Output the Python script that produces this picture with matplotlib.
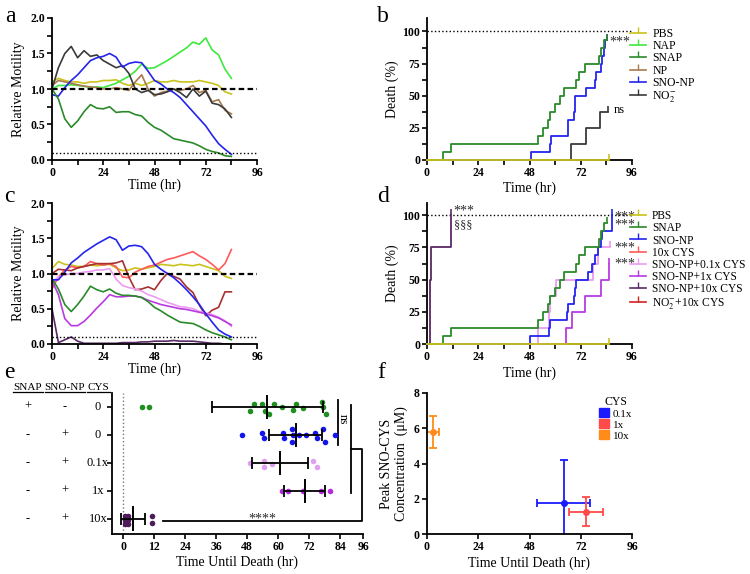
import numpy as np
import matplotlib
matplotlib.use('Agg')
import matplotlib.pyplot as plt
import matplotlib.transforms as mtrans
from matplotlib.ticker import MultipleLocator
from matplotlib.lines import Line2D
from matplotlib.patches import Patch

plt.rcParams['font.family'] = ['Liberation Serif', 'DejaVu Serif']
plt.rcParams['mathtext.fontset'] = 'stix'

W, H = 750, 574

# ---------------- data ----------------
# motility time grid (hr)
t_mot = [0, 3, 6, 9, 12, 15, 18, 21, 24, 27, 30, 33, 36, 39, 42, 45, 48, 51, 54, 57,
         60, 63, 66, 69, 72, 75, 78, 81, 84]

# panel a
a_pbs = [1.1, 1.15, 1.12, 1.1, 1.1, 1.08, 1.1, 1.1, 1.12, 1.12, 1.13, 1.08, 1.05, 1.08, 1.05,
         1.08, 1.12, 1.1, 1.1, 1.12, 1.1, 1.1, 1.1, 1.12, 1.1, 1.08, 1.05, 0.96, 0.93]
a_nap = [1.0, 1.05, 1.05, 1.06, 1.05, 1.04, 1.02, 1.03, 1.02, 1.05, 1.08, 1.13, 1.18, 1.25, 1.35,
         1.29, 1.3, 1.35, 1.4, 1.46, 1.52, 1.58, 1.66, 1.63, 1.72, 1.55, 1.48, 1.28, 1.15]
a_snap = [1.0, 0.86, 0.58, 0.46, 0.55, 0.68, 0.78, 0.73, 0.72, 0.75, 0.67, 0.68, 0.68, 0.64, 0.62,
          0.53, 0.46, 0.42, 0.36, 0.3, 0.28, 0.26, 0.24, 0.2, 0.15, 0.12, 0.1, 0.06, 0.05]
a_np = [1.05, 1.12, 1.1, 1.08, 1.06, 1.04, 1.03, 1.02, 1.0, 1.0, 1.02, 1.0, 0.98, 1.1, 1.2,
        1.0, 0.9, 0.95, 0.97, 1.0, 0.98, 1.0, 1.05, 0.95, 0.98, 0.82, 0.85, 0.7, 0.65]
a_snonp = [0.92, 0.9, 1.02, 1.12, 1.2, 1.3, 1.4, 1.44, 1.46, 1.5, 1.45, 1.31, 1.36, 1.38, 1.37,
           1.25, 1.12, 1.07, 1.0, 0.95, 0.88, 0.78, 0.68, 0.58, 0.48, 0.35, 0.23, 0.15, 0.08]
a_no2 = [1.0, 1.3, 1.5, 1.6, 1.44, 1.54, 1.46, 1.48, 1.4, 1.35, 1.3, 1.33, 1.22, 1.0, 0.95,
         0.98, 0.92, 0.93, 0.96, 1.0, 0.95, 0.88, 1.0, 0.9, 0.97, 0.8, 0.78, 0.72, 0.6]

# panel c
c_pbs = [1.07, 1.17, 1.13, 1.12, 1.1, 1.1, 1.12, 1.11, 1.12, 1.13, 1.08, 1.04, 1.05, 1.08, 1.06,
         1.08, 1.1, 1.13, 1.12, 1.11, 1.13, 1.12, 1.11, 1.13, 1.1, 1.07, 1.04, 0.96, 0.93]
c_snap = [0.93, 0.78, 0.56, 0.46, 0.56, 0.68, 0.82, 0.77, 0.74, 0.78, 0.72, 0.69, 0.69, 0.68, 0.66,
          0.6, 0.52, 0.47, 0.41, 0.36, 0.31, 0.3, 0.29, 0.25, 0.2, 0.16, 0.13, 0.1, 0.06]
c_snonp = [0.91, 0.91, 1.02, 1.15, 1.22, 1.3, 1.36, 1.42, 1.47, 1.52, 1.48, 1.33, 1.39, 1.4, 1.38,
           1.28, 1.13, 1.06, 1.0, 0.94, 0.86, 0.77, 0.67, 0.56, 0.43, 0.31, 0.2, 0.14, 0.1]
c_cys10 = [0.78, 0.95, 1.05, 1.1, 1.08, 1.1, 1.17, 1.14, 1.12, 1.14, 1.1, 0.95, 0.94, 1.02, 1.06,
           1.1, 1.12, 1.16, 1.2, 1.22, 1.25, 1.28, 1.31, 1.25, 1.2, 1.13, 1.05, 1.14, 1.34]
c_sno01 = [0.87, 0.95, 0.98, 1.0, 1.0, 1.02, 1.03, 1.05, 1.05, 1.07, 0.92, 0.83, 0.8, 0.78, 0.75,
           0.7, 0.67, 0.63, 0.59, 0.56, 0.53, 0.52, 0.5, 0.46, 0.44, 0.42, 0.38, 0.33, 0.25]
c_sno1 = [0.9, 0.7, 0.36, 0.26, 0.26, 0.32, 0.41, 0.51, 0.6, 0.7, 0.67, 0.67, 0.68, 0.68, 0.66,
          0.62, 0.59, 0.56, 0.54, 0.52, 0.5, 0.49, 0.47, 0.45, 0.43, 0.4, 0.37, 0.32, 0.27]
c_sno10 = [0.5, 0.02, 0.06, 0.1, 0.04, 0.01, 0.01, 0.01, 0.01, 0.01, 0.01, 0.02, 0.02, 0.02, 0.03,
           0.03, 0.04, 0.04, 0.04, 0.05, 0.04, 0.04, 0.04, 0.03, 0.02, 0.01, 0.01, 0.0, 0.0]
c_no2cys = [1.0, 1.06, 1.05, 1.04, 1.08, 1.1, 1.12, 1.14, 1.14, 1.14, 1.15, 1.18, 0.95, 0.77, 0.78,
            0.81, 0.77, 0.9, 1.0, 0.96, 0.92, 0.81, 0.73, 0.55, 0.4, 0.48, 0.52, 0.74, 0.74]

# survival: event times (hr), group size, end of follow-up
b_snap_t = [7.6, 11.2, 52.0, 54.1, 56.7, 57.5, 59.8, 62.2, 64.2, 69.7, 71.1, 73.9, 80.4, 81.7, 82.9]
b_snonp_t = [48.9, 57.5, 58.0, 65.8, 66.1, 68.9, 69.2, 69.5, 74.6, 78.9, 79.3, 81.7, 82.1, 82.9, 83.5]
b_no2_t = [67.2, 74.6, 81.2]
d_snonp_t = [48.1, 57.0, 57.5, 65.7, 66.2, 69.0, 69.3, 69.6, 75.4, 77.5, 78.5, 79.9, 81.4, 82.0,
             86.4, 86.4]
d_sno01_t = [52.0, 57.3, 57.7, 60.6, 77.7, 80.1]
d_sno1_t = [65.3, 68.1, 73.8, 81.7, 85.2]
d_sno10_t = [1.2, 1.2, 1.2, 1.2, 1.7, 1.7, 11.4, 11.4]

# panel e: time until death (hr) and vertical jitter
e_snap = [7.1, 10.1, 49.1, 50.7, 53.6, 54.9, 56.6, 58.4, 61.4, 65.9, 66.9, 69.8, 76.9, 77.3, 78.6]
e_snap_dy = [0, 0, 0.14, -0.1, -0.1, 0.14, 0.24, -0.1, 0, 0.12, -0.1, 0.02, -0.19, 0, 0.24]
e_snonp = [45.9, 53.9, 54.5, 62.0, 62.3, 65.3, 65.7, 65.3, 68.2, 70.8, 74.4, 75.2, 77.3, 78.2, 82.1]
e_snonp_dy = [0, -0.08, 0.12, -0.08, 0.12, -0.2, 0, 0.24, 0, 0, -0.08, 0.12, -0.2, 0.24, 0]
e_sno01 = [49.1, 54.5, 54.5, 57.5, 73.4, 75.2]
e_sno01_dy = [0, -0.08, 0.15, 0.04, -0.08, 0.15]
e_sno1 = [61.4, 64.0, 69.5, 76.5, 80.1]
e_sno1_dy = [0, 0, 0, 0, 0]
e_sno10 = [0.7, 1.7, 0.7, 1.7, 0.7, 1.7, 11.0, 11.0]
e_sno10_dy = [-0.1, -0.1, 0.04, 0.04, 0.18, 0.18, -0.08, 0.15]
e_col_snap = ['+', '-', '-', '-', '-']
e_col_snonp = ['-', '+', '+', '+', '+']
e_col_cys = ['0', '0', '0.1x', '1x', '10x']

# panel f
f_labels = ['0.1x', '1x', '10x']
f_time = [63.9, 74.4, 2.8]
f_time_err = [12.3, 7.8, 3.0]
f_conc = [1.75, 1.28, 5.78]
f_conc_err = [2.45, 0.83, 0.9]

# ---------------- colours ----------------
C_PBS = '#c9c21c'
C_NAP = '#3ee83e'
C_SNAP = '#2a8a2a'
C_NP = '#a77a4e'
C_SNONP = '#2424ee'
C_NO2 = '#3a3a3a'
C_CYS10 = '#ff5a5a'
C_SNO01 = '#ec9cf0'
C_SNO1 = '#b93ae0'
C_SNO10 = '#5a2a66'
C_NO2CYS = '#a83030'
C_STAR = '#2a2a2a'


def px_axes(l, t, r, b):
    return [l / W, 1 - b / H, (r - l) / W, (b - t) / H]


def style(ax):
    for s in ['top', 'right']:
        ax.spines[s].set_visible(False)
    for s in ['left', 'bottom']:
        ax.spines[s].set_linewidth(1.3)
    ax.tick_params(which='both', direction='out', length=3.5, width=1.2, labelsize=8.5, pad=1.5)
    for tl in ax.get_xticklabels() + ax.get_yticklabels():
        tl.set_fontweight('bold')


def km(ax, times, n, end, color, lw=1.3):
    x = [0] + list(times) + [end]
    y = [0] + [100.0 * (i + 1) / n for i in range(len(times))]
    y = y + [y[-1]]
    ax.plot(x, y, drawstyle='steps-post', color=color, lw=lw, clip_on=False, zorder=3)
    ax.plot([end], [y[-1]], marker=2, ms=4, mew=1.2, color=color, clip_on=False, zorder=3)


fig = plt.figure(figsize=(7.5, 5.74), dpi=100)

# ---------------- a ----------------
ax = fig.add_axes(px_axes(52, 18, 257, 160))
for vals, c in [(a_pbs, C_PBS), (a_nap, C_NAP), (a_np, C_NP), (a_no2, C_NO2),
                (a_snonp, C_SNONP), (a_snap, C_SNAP)]:
    ax.plot(t_mot, vals, color=c, lw=1.2)
ax.plot([0, 96], [1, 1], 'k', ls=(0, (2.5, 1.5)), lw=1.6)
ax.plot([0, 96], [0.1, 0.1], 'k', ls=':', lw=1.0)
ax.set_xlim(0, 96)
ax.set_ylim(0, 2)
ax.set_xticks([0, 24, 48, 72, 96])
ax.xaxis.set_minor_locator(MultipleLocator(12))
ax.set_yticks([0, 0.5, 1.0, 1.5, 2.0])
ax.set_yticklabels(['0.0', '0.5', '1.0', '1.5', '2.0'])
ax.yaxis.set_minor_locator(MultipleLocator(0.25))
ax.set_xlabel('Time (hr)', fontsize=10, labelpad=0)
ax.set_ylabel('Relative Motility', fontsize=10, labelpad=4)
style(ax)

# ---------------- b ----------------
ax = fig.add_axes(px_axes(427, 18, 632, 160))
ax.plot([0, 96], [100, 100], 'k', ls=':', lw=1.0)
km(ax, b_no2_t, 8, 84.8, C_NO2)
km(ax, b_snonp_t, 16, 84.5, C_SNONP)
km(ax, b_snap_t, 16, 84.5, C_SNAP)
km(ax, [], 8, 85, C_PBS)
ax.text(85.3, 92, '***', fontsize=10, va='center', color=C_STAR)
ax.text(87.5, 39, 'ns', fontsize=9, va='center')
ax.set_xlim(0, 96)
ax.set_ylim(0, 110.5)
ax.set_xticks([0, 24, 48, 72, 96])
ax.xaxis.set_minor_locator(MultipleLocator(12))
ax.set_yticks([0, 25, 50, 75, 100])
ax.yaxis.set_minor_locator(MultipleLocator(12.5))
ax.set_xlabel('Time (hr)', fontsize=10, labelpad=2)
ax.set_ylabel('Death (%)', fontsize=10, labelpad=2)
style(ax)
b_names = ['PBS', 'NAP', 'SNAP', 'NP', 'SNO-NP', 'NO$_2^{-}$']
b_cols = [C_PBS, C_NAP, C_SNAP, C_NP, C_SNONP, C_NO2]
hs = [Line2D([], [], color=c, lw=1.2, marker=2, ms=4) for c in b_cols]
ax.legend(hs, b_names, loc='upper left', bbox_to_anchor=(0.99, 0.93), frameon=False,
          fontsize=8.5, handlelength=1.4, handletextpad=0.5, labelspacing=0.02,
          borderaxespad=0, borderpad=0)

# ---------------- c ----------------
ax = fig.add_axes(px_axes(52, 203, 257, 344))
for vals, c in [(c_sno10, C_SNO10), (c_pbs, C_PBS), (c_cys10, C_CYS10), (c_no2cys, C_NO2CYS),
                (c_sno01, C_SNO01), (c_sno1, C_SNO1), (c_snap, C_SNAP), (c_snonp, C_SNONP)]:
    ax.plot(t_mot, vals, color=c, lw=1.2)
ax.plot([0, 96], [1, 1], 'k', ls=(0, (2.5, 1.5)), lw=1.6)
ax.plot([0, 96], [0.1, 0.1], 'k', ls=':', lw=1.0)
ax.set_xlim(0, 96)
ax.set_ylim(0, 2)
ax.set_xticks([0, 24, 48, 72, 96])
ax.xaxis.set_minor_locator(MultipleLocator(12))
ax.set_yticks([0, 0.5, 1.0, 1.5, 2.0])
ax.set_yticklabels(['0.0', '0.5', '1.0', '1.5', '2.0'])
ax.yaxis.set_minor_locator(MultipleLocator(0.25))
ax.set_xlabel('Time (hr)', fontsize=10, labelpad=0)
ax.set_ylabel('Relative Motility', fontsize=10, labelpad=4)
style(ax)

# ---------------- d ----------------
ax = fig.add_axes(px_axes(427, 203, 632, 344.3))
ax.plot([0, 96], [100, 100], 'k', ls=':', lw=1.0)
km(ax, d_sno10_t, 8, 11.4, C_SNO10)
km(ax, d_sno1_t, 8, 85.2, C_SNO1)
km(ax, d_sno01_t, 8, 85.6, C_SNO01)
km(ax, d_snonp_t, 16, 86.8, C_SNONP)
km(ax, b_snap_t, 16, 84.5, C_SNAP)
km(ax, [], 8, 85, C_PBS)
ax.text(12.5, 103, '***', fontsize=10, va='center', color=C_STAR)
ax.text(12.5, 92, '§§§', fontsize=9, va='center', color=C_STAR)
ax.text(87.5, 95.5, '***\n***', fontsize=10, va='center', linespacing=0.55, color=C_STAR)
for yy in [74.5, 62]:
    ax.text(87.5, yy, '***', fontsize=10, va='center', color=C_STAR)
ax.set_xlim(0, 96)
ax.set_ylim(0, 109.3)
ax.set_xticks([0, 24, 48, 72, 96])
ax.xaxis.set_minor_locator(MultipleLocator(12))
ax.set_yticks([0, 25, 50, 75, 100])
ax.yaxis.set_minor_locator(MultipleLocator(12.5))
ax.set_xlabel('Time (hr)', fontsize=10, labelpad=2)
ax.set_ylabel('Death (%)', fontsize=10, labelpad=2)
style(ax)
d_names = ['PBS', 'SNAP', 'SNO-NP', '10x CYS', 'SNO-NP+0.1x CYS', 'SNO-NP+1x CYS',
           'SNO-NP+10x CYS', 'NO$_2^{-}$+10x CYS']
d_cols = [C_PBS, C_SNAP, C_SNONP, C_CYS10, C_SNO01, C_SNO1, C_SNO10, '#d42020']
hs = [Line2D([], [], color=c, lw=1.2, marker=2, ms=4) for c in d_cols]
ax.legend(hs, d_names, loc='upper left', bbox_to_anchor=(0.99, 0.95), frameon=False,
          fontsize=8.3, handlelength=1.4, handletextpad=0.5, labelspacing=0.02,
          borderaxespad=0, borderpad=0)

# ---------------- e ----------------
ax = fig.add_axes(px_axes(112, 393, 363, 534))
e_sets = [(e_snap, e_snap_dy, '#1f8f1f'), (e_snonp, e_snonp_dy, '#1414ee'),
          (e_sno01, e_sno01_dy, '#e0a0f0'), (e_sno1, e_sno1_dy, '#b52ade'),
          (e_sno10, e_sno10_dy, '#4d1a5a')]
ax.axvline(0, color='#777777', ls=':', lw=1.0)
for r, (vals, dys, c) in enumerate(e_sets):
    ax.scatter(vals, np.array(dys) + r, s=16, color=c, zorder=3, linewidths=0)
    m = np.mean(vals)
    s = np.std(vals, ddof=1)
    ax.errorbar(m, r, xerr=s, color='k', capsize=4, elinewidth=1.3, capthick=1.3, zorder=4)
    ax.plot([m, m], [r - 0.4, r + 0.4], 'k', lw=1.4, zorder=4)
# significance brackets
ax.plot([83.3, 83.3], [-0.25, 1.35], 'k', lw=1.3)
ax.text(85.0, 0.45, 'ns', fontsize=8.5, rotation=-90, va='center', ha='center')
ax.plot([88.1, 88.1], [-0.07, 3.08], 'k', lw=1.3)
ax.plot([88.1, 92.4, 92.4, 15.5], [1.5, 1.5, 4.1, 4.1], 'k', lw=1.3, clip_on=False)
ax.text(53.8, 4.0, '****', fontsize=10, va='center', ha='center', color=C_STAR)
ax.set_xlim(-4.4, 92.9)
ax.set_ylim(4.55, -0.5)
ax.set_xticks([0, 12, 24, 36, 48, 60, 72, 84, 92.9])
ax.set_xticklabels(['0', '12', '24', '36', '48', '60', '72', '84', '96'])
ax.set_yticks([0, 1, 2, 3, 4])
ax.set_yticklabels([])
ax.set_xlabel('Time Until Death (hr)', fontsize=10, labelpad=2)
style(ax)
tr = mtrans.blended_transform_factory(fig.transFigure, ax.transData)
for r in range(5):
    fig.text(28 / W, r, e_col_snap[r], transform=tr, ha='center', va='center', fontsize=9)
    fig.text(65 / W, r, e_col_snonp[r], transform=tr, ha='center', va='center', fontsize=9)
    fig.text(98 / W, r, e_col_cys[r], transform=tr, ha='center', va='center', fontsize=9)
for name, xc, x0, x1 in [('SNAP', 28, 13, 43), ('SNO-NP', 65, 45, 85), ('CYS', 98, 87, 110)]:
    fig.text(xc / W, 1 - 387 / H, name, ha='center', va='center', fontsize=8)
    fig.add_artist(Line2D([x0 / W, x1 / W], [1 - 392 / H, 1 - 392 / H], color='k', lw=0.9))

# ---------------- f ----------------
ax = fig.add_axes(px_axes(426.7, 392.7, 632.3, 534.3))
f_cols = ['#1a1aff', '#ff4a4a', '#ff8c1a']
for i in range(3):
    ax.errorbar(f_time[i], f_conc[i], xerr=f_time_err[i], yerr=f_conc_err[i], fmt='o', ms=4,
                color=f_cols[i], capsize=3, elinewidth=1.3, capthick=1.3)
ax.set_xlim(0, 96)
ax.set_ylim(0, 8)
ax.set_xticks([0, 24, 48, 72, 96])
ax.set_yticks([0, 2, 4, 6, 8])
ax.set_xlabel('Time Until Death (hr)', fontsize=10, labelpad=2)
ax.set_ylabel('Peak SNO-CYS\nConcentration  (\u03bcM)', fontsize=10, labelpad=4)
style(ax)
hs = [Patch(color=c) for c in f_cols]
ax.legend(hs, f_labels, title='CYS', loc='upper left', bbox_to_anchor=(0.84, 0.98),
          frameon=False, fontsize=8, title_fontsize=8.5, handlelength=0.9, handleheight=0.9,
          handletextpad=0.3, labelspacing=0.05, borderaxespad=0, borderpad=0)

# ---------------- panel letters ----------------
for lab, x, y in [('a', 10, 16), ('b', 383, 16), ('c', 9, 196), ('d', 383, 196),
                  ('e', 9, 372), ('f', 381, 372)]:
    fig.text(x / W, 1 - y / H, lab, fontsize=17, ha='center', va='center')

fig.savefig('out.png', dpi=100)
